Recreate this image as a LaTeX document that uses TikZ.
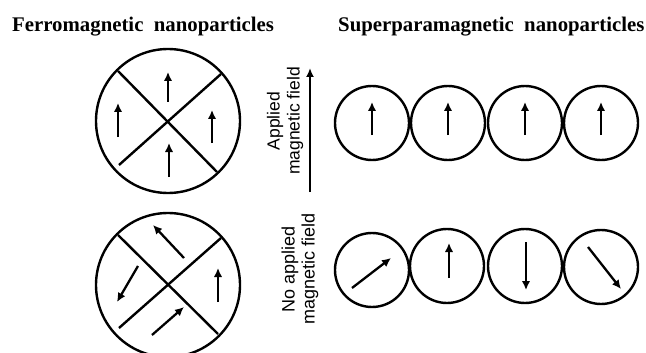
\documentclass[tikz,border=0pt]{standalone}
\usepackage{fontspec}
\setmainfont{Liberation Serif}
\newfontfamily\sansf{Liberation Sans}
\usetikzlibrary{arrows.meta}
\begin{document}
\begin{tikzpicture}[x=1pt,y=-1pt,
  ln/.style={line width=2.4pt},
  big/.style={circle,draw,line width=2.4pt,minimum size=144pt,inner sep=0pt},
  small/.style={circle,draw,line width=2.4pt,minimum size=74pt,inner sep=0pt},
  spin/.style={line width=2.3pt,-{Latex[length=9pt,width=8.5pt]}},
  title/.style={font=\bfseries\fontsize{20.8}{24}\selectfont,anchor=base west,inner sep=0pt},
  lab/.style={font=\sansf\fontsize{17.5}{20}\selectfont,align=center,rotate=90,inner sep=0pt}]
\useasboundingbox (0,0) rectangle (646,353);
\clip (0,0) rectangle (646,353);
\fill[white] (0,0) rectangle (646,353);
% titles
\node[title] (t1) at (12,32) {Ferromagnetic\ \ nanoparticles};
\node[title] (t2) at (338,32) {Superparamagnetic\ \ nanoparticles};
% ferromagnetic, applied field
\node[big] (fa) at (168,121) {};
\draw[ln] (118,71) -- (217,172);
\draw[ln] (221,74) -- (119,165);
\draw[spin] (168,102) -- (168,72);
\draw[spin] (118,137) -- (118,103);
\draw[spin] (212,143) -- (212,110);
\draw[spin] (169,177) -- (169,143);
% ferromagnetic, no field
\node[big] (fn) at (168,285) {};
\draw[ln] (118,235) -- (218,334);
\draw[ln] (221,238) -- (119,328);
\draw[spin] (184,258) -- (153,225);
\draw[spin] (138,266) -- (117,302);
\draw[spin] (218,302) -- (218,268);
\draw[spin] (152,335) -- (184,307);
% field labels
\coordinate (fb) at (310,192);
\coordinate (ft) at (310,68);
\draw[line width=2.2pt,-{Latex[length=9pt,width=8pt]}] (fb) -- (ft);
\node[lab] (la) at (285,121) {Applied\\magnetic field};
\node[lab,font=\sansf\fontsize{18}{20}\selectfont] (ln) at (300,269) {No applied\\magnetic field};
% superparamagnetic, applied field
\node[small] (s1) at (372,123) {};
\node[small] (s2) at (448,123) {};
\node[small] (s3) at (525,123) {};
\node[small] (s4) at (601,123) {};
\foreach \n/\x in {s1/372,s2/448,s3/525,s4/601}
  \draw[spin] (\x,135) -- (\x,102);
% superparamagnetic, no field
\node[small] (r1) at (372,270) {};
\node[small] (r2) at (447,266) {};
\node[small] (r3) at (525,266) {};
\node[small] (r4) at (601,267) {};
\draw[spin] (352,288) -- (391,258);
\draw[spin] (449,278) -- (449,243);
\draw[spin] (526,242) -- (526,290);
\draw[spin] (588,247) -- (621,289);
\end{tikzpicture}
\end{document}
